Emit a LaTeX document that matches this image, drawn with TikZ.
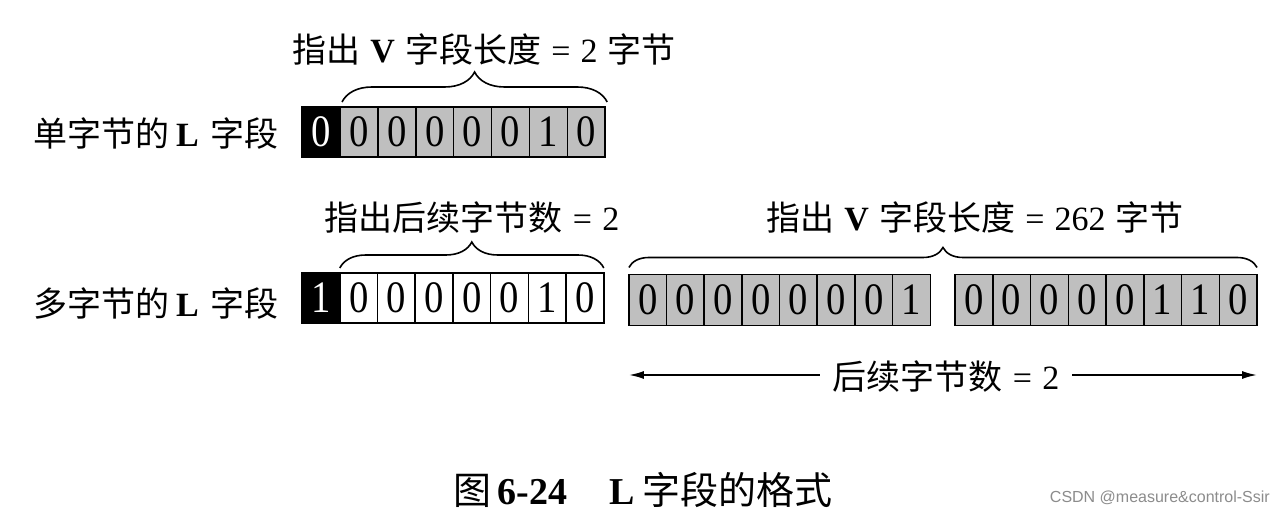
\documentclass[tikz,border=0pt]{standalone}
\usepackage{fontspec}
\usepackage{graphicx}
\setmainfont{Liberation Serif}
\newfontfamily\cjk{Noto Sans CJK SC}
\newfontfamily\wmfont{Liberation Sans}
\usetikzlibrary{decorations.pathreplacing,arrows.meta}
\newcommand\zh[1]{{\cjk #1}}
\newcommand\la[1]{{\rmfamily #1}}
\newcommand\dg[1]{\scalebox{0.86}[1]{#1}}
\newcommand\gp{\hspace{0.3em}}
\begin{document}
\begin{tikzpicture}[x=1pt,y=1pt,
  cell/.style={draw=black, line width=1.5pt, minimum width=37.8pt, minimum height=50pt,
    inner sep=0pt, outer sep=0pt, font=\fontsize{45}{45}\selectfont},
  shaded/.style={cell, fill=black!25},
  plain/.style={cell, fill=white},
  lead/.style={cell, fill=black, text=white},
  lbl/.style={font=\fontsize{34}{40}\selectfont, inner sep=0pt},
  brc/.style={decorate, decoration={brace, amplitude=#1}, line width=1.6pt},
  arr/.style={line width=1.8pt, -{Latex[length=15pt,width=8pt]}}
]
\useasboundingbox (0,0) rectangle (1280,-518);
\fill[white] (0,0) rectangle (1280,-518);

% row labels
\node[lbl, anchor=east] (l1) at (279,-134) {\zh{单字节的}\hspace{0.2em}\la{\bfseries L}\hspace{0.35em}\zh{字段}};
\node[lbl, anchor=east] (l2) at (279,-304) {\zh{多字节的}\hspace{0.2em}\la{\bfseries L}\hspace{0.35em}\zh{字段}};

% row 1
\node[lead, minimum width=39pt] (a0) at (321.5,-132) {\dg{0}};
\foreach \d [count=\i] in {0,0,0,0,0,1,0}
  \node[shaded] (a\i) at (321+37.9*\i,-132) {\dg{\d}};

% row 2 left
\node[lead, minimum width=39pt] (b0) at (321.5,-298) {\dg{1}};
\foreach \d [count=\i] in {0,0,0,0,0,1,0}
  \node[plain] (b\i) at (321+37.7*\i,-298) {\dg{\d}};

% row 2 group 1
\foreach \d [count=\i from 0] in {0,0,0,0,0,0,0,1}
  \node[shaded, minimum height=51pt] (c\i) at (647.8+37.65*\i,-300) {\dg{\d}};

% row 2 group 2
\foreach \d [count=\i from 0] in {0,0,0,0,0,1,1,0}
  \node[shaded, minimum height=51pt] (d\i) at (973.9+37.75*\i,-300) {\dg{\d}};

% braces
\draw[brc=30pt] ([xshift=2pt,yshift=5pt]a1.north west) -- ([xshift=2pt,yshift=5pt]a7.north east);
\draw[brc=26pt] ([yshift=5pt]b1.north west) -- ([yshift=5pt]b7.north east);
\draw[brc=20pt] ([yshift=7pt]c0.north west) -- ([yshift=7pt]d7.north east);

% brace labels
\node[lbl] (t1) at (484,-50) {\zh{指出}\gp\la{\bfseries V}\gp\zh{字段长度}\gp\la{=}\gp\la{2}\gp\zh{字节}};
\node[lbl] (t2) at (472,-218) {\zh{指出后续字节数}\gp\la{=}\gp\la{2}};
\node[lbl] (t3) at (975,-218) {\zh{指出}\gp\la{\bfseries V}\gp\zh{字段长度}\gp\la{=}\gp\la{262}\gp\zh{字节}};

% count arrow
\node[lbl, inner xsep=13pt] (cnt) at (946,-377) {\zh{后续字节数}\gp\la{=}\gp\la{2}};
\draw[arr] (cnt.west |- 0,-375) -- (c0.west |- 0,-375);
\draw[arr] (cnt.east |- 0,-375) -- (d7.east |- 0,-375);

% caption
\node[lbl, font=\fontsize{38}{44}\selectfont] (cap) at (643,-490) {\zh{图}\hspace{0.15em}\la{\bfseries 6-24}\hspace{1.1em}\la{\bfseries L}\hspace{0.2em}\zh{字段的格式}};

% watermark
\node[anchor=east, inner sep=0pt, font=\wmfont\fontsize{16}{18}\selectfont, text=black!45] (wm) at (1270,-498) {CSDN @measure\&control-Ssir};
\end{tikzpicture}
\end{document}
